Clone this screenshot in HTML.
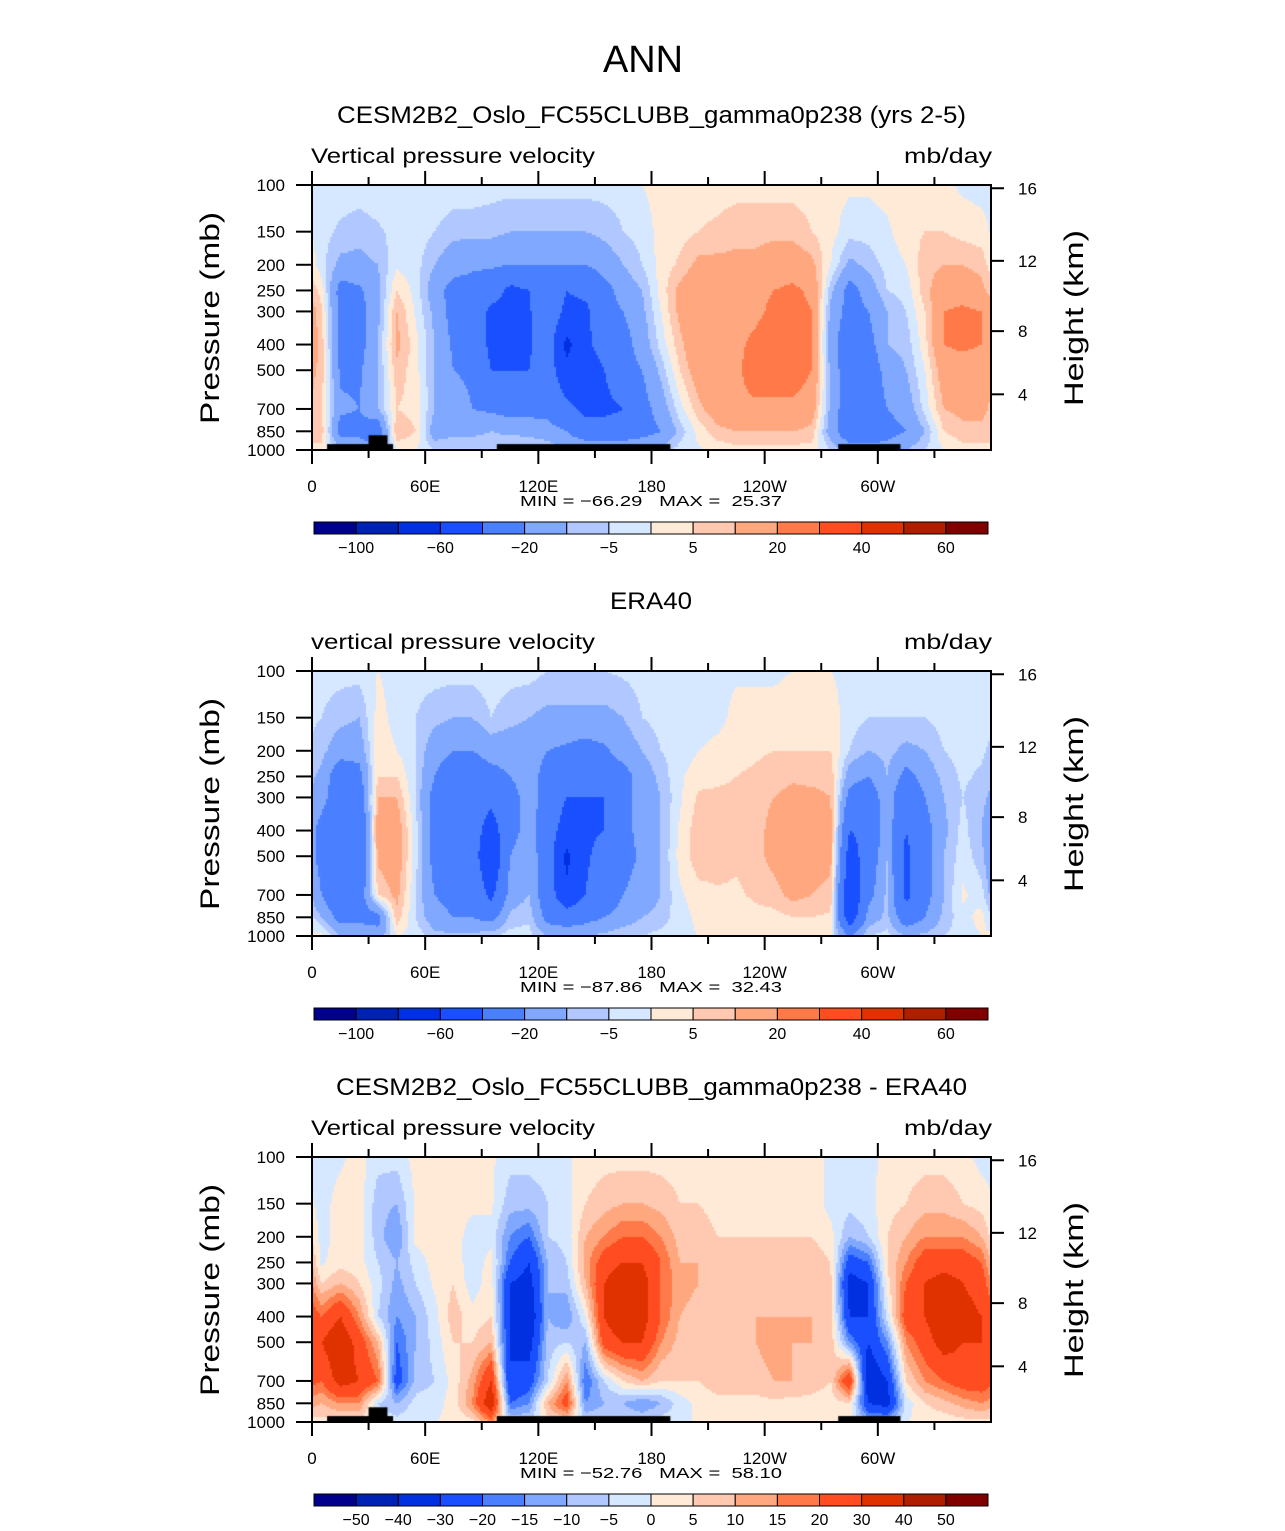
<!DOCTYPE html>
<html><head><meta charset="utf-8"><style>
html,body{margin:0;padding:0;background:#fff;}
#wrap{position:relative;width:1285px;height:1531px;overflow:hidden;}
canvas{position:absolute;}
svg{position:absolute;left:0;top:0;}
text{font-family:"Liberation Sans",sans-serif;fill:#000;}
</style></head><body>
<div id="wrap">
<canvas id="c0" width="679" height="265" style="left:312px;top:185px"></canvas>
<canvas id="c1" width="679" height="265" style="left:312px;top:671px"></canvas>
<canvas id="c2" width="679" height="265" style="left:312px;top:1157px"></canvas>
<svg id="ov" width="1285" height="1531"></svg>
</div>
<script>
// ---- data ----
const pressures=[100,150,200,250,300,400,500,700,850,1000];
const lonCenters=[5,15,25,35,45,55,65,75,85,95,105,115,125,135,145,155,165,175,185,195,205,215,225,235,245,255,265,275,285,295,305,315,325,335,345,355];
const heightTicks=[4,8,12,16];
const xTickLabels=["0","60E","120E","180","120W","60W"];
const levelsFull=[-100,-80,-60,-40,-20,-10,-5,0,5,10,20,30,40,50,60];
const levelsDiff=[-50,-40,-30,-20,-15,-10,-5,0,5,10,15,20,30,40,50];
const cbLabelsFull=["−100","","−60","","−20","","−5","","5","","20","","40","","60"];
const cbLabelsDiff=["−50","−40","−30","−20","−15","−10","−5","0","5","10","15","20","30","40","50"];
const colors=['#00008c','#0022b4','#0030e0','#1a4fff','#4a80ff','#80a8ff','#b0c8ff','#d6e8ff','#ffead8','#ffc8b0','#ffa880','#ff7a48','#ff4c20','#e03200','#b01e00','#800000'];
const modelVals=[
[-2,-3,-3,3,6,8,8,6,8,3],[-2,-6,-12,-25,-25,-25,-22,-18,-25,-8],[-2,-8,-12,-22,-25,-25,-22,-20,-25,-10],[-1,-6,-10,-12,-12,-10,-10,-10,-30,-20],
[-1,-3,-1,5,10,12,8,5,10,0],[-1,-2,-3,-2,-1,2,2,3,5,0],[-1,-5,-10,-15,-12,-10,-10,-10,-15,-5],[-2,-8,-15,-25,-25,-22,-20,-15,-12,-5],
[-2,-8,-18,-25,-25,-25,-22,-20,-12,-5],[-3,-8,-18,-30,-45,-45,-40,-22,-10,-5],[-3,-10,-20,-45,-45,-45,-40,-25,-12,-3],[-3,-10,-20,-40,-42,-42,-40,-25,-12,-5],
[-3,-10,-20,-25,-25,-30,-30,-25,-15,-5],[-3,-10,-20,-40,-45,-65,-55,-35,-20,-10],[-3,-10,-20,-35,-45,-45,-55,-45,-30,-10],[-3,-8,-15,-25,-25,-30,-40,-45,-30,-10],
[-3,-5,-10,-15,-20,-25,-25,-40,-30,-10],[0,-3,-5,-10,-12,-15,-20,-25,-25,-10],[2,2,2,2,0,-3,-8,-15,-20,-8],[3,3,6,12,12,8,5,-2,-8,-3],
[3,5,12,18,18,18,15,8,2,-1],[3,6,12,18,18,18,18,15,8,2],[3,8,12,18,18,18,18,18,10,3],[3,8,12,18,18,22,25,18,10,3],
[3,8,15,20,22,25,25,18,10,3],[3,8,15,22,24,25,25,18,10,3],[3,5,12,18,20,20,20,15,8,3],[2,2,0,-8,-12,-15,-12,-12,-15,-5],
[1,-3,-12,-25,-25,-30,-30,-30,-30,-15],[1,-3,-8,-15,-20,-25,-30,-30,-30,-15],[2,-1,-3,-5,-10,-10,-15,-20,-25,-15],[2,3,0,-3,-5,-8,-10,-15,-20,-10],
[2,5,8,8,5,3,0,-3,-10,-5],[1,5,10,15,20,20,15,10,5,0],[-1,3,10,15,22,22,15,12,8,3],[-2,2,8,12,20,20,15,12,8,3]];
const eraVals=[
[-3,-5,-8,-12,-15,-25,-25,-20,-10,2],[-3,-8,-15,-30,-30,-40,-40,-35,-25,-10],[-3,-10,-15,-25,-30,-40,-40,-30,-25,-10],[0,2,3,5,10,15,12,5,-25,-15],
[-2,-2,0,5,10,15,15,12,8,0],[-3,-5,-5,-5,-5,-3,-3,-5,-5,-2],[-3,-8,-15,-20,-25,-25,-25,-20,-15,-8],[-3,-10,-20,-30,-30,-30,-25,-25,-20,-8],
[-3,-10,-20,-30,-30,-30,-30,-25,-20,-8],[-2,-5,-15,-25,-35,-50,-60,-45,-25,-5],[-3,-8,-15,-20,-25,-25,-20,-15,-8,-3],[-3,-10,-15,-15,-15,-15,-12,-10,-6,-3],
[-5,-12,-20,-25,-25,-30,-30,-30,-25,-10],[-5,-12,-22,-30,-40,-50,-65,-55,-30,-10],[-5,-12,-25,-35,-40,-42,-42,-40,-25,-10],[-5,-12,-22,-30,-40,-40,-35,-30,-20,-8],
[-4,-10,-15,-25,-25,-25,-25,-20,-15,-5],[-3,-5,-10,-15,-15,-15,-18,-15,-10,-5],[-2,-3,-5,-8,-10,-10,-10,-10,-8,-3],[-2,-3,-3,-1,-1,1,2,-1,-2,-1],
[-2,-3,0,3,6,8,8,3,1,0],[-2,-2,2,4,6,8,8,4,2,0],[-1,2,3,5,6,6,6,4,2,0],[-1,2,4,6,8,8,8,6,3,0],
[-1,2,5,8,10,12,12,8,3,0],[0,3,5,9,12,14,14,12,5,1],[0,3,5,8,12,14,14,10,5,1],[0,3,5,8,10,12,12,8,4,0],
[-2,-3,-5,-15,-25,-40,-50,-60,-55,-20],[-2,-5,-10,-20,-30,-35,-30,-25,-15,-5],[-2,-5,-8,-10,-12,-12,-10,-8,-8,-3],[-2,-5,-12,-25,-35,-40,-45,-45,-30,-10],
[-2,-5,-10,-15,-20,-25,-25,-25,-20,-8],[-2,-3,-5,-8,-10,-12,-10,-10,-8,-5],[-2,-3,-3,-4,-5,-3,-2,1,-2,-3],[-2,-3,-4,-6,-8,-10,-8,-3,2,0]];
const diffVals=[
[-2,-2,-2,-1,5,20,30,20,10,3],[-1,2,2,3,10,30,40,35,15,3],[2,3,3,2,5,15,25,30,15,3],[-3,-8,-8,-5,-3,-5,10,20,-5,0],
[-3,-10,-15,-10,-12,-15,-20,-25,-10,-3],[2,1,2,-3,-5,-10,-10,-8,-3,0],[2,3,3,2,1,-2,-3,-5,-2,0],[2,2,2,3,5,8,5,2,2,1],
[1,1,-2,-3,-3,2,5,12,15,3],[1,1,-2,2,3,5,10,30,40,15],[-3,-8,-15,-20,-30,-30,-30,-30,-20,-5],[-3,-8,-20,-30,-35,-40,-35,-25,-15,-5],
[-3,-5,-5,-10,-10,-10,-8,-5,10,3],[-1,-2,-3,-5,-8,-15,-5,15,25,5],[2,5,10,12,10,0,-10,-20,-15,-5],[3,8,15,25,30,30,25,-5,-10,-5],
[3,10,20,30,40,40,30,5,-10,-5],[3,10,20,30,35,35,30,10,-15,-5],[3,8,15,20,20,20,15,5,-10,-3],[3,5,8,10,12,10,8,5,-3,0],
[2,5,8,10,10,8,8,5,2,0],[2,3,5,8,5,5,8,8,3,1],[2,3,5,6,8,8,10,8,3,1],[2,3,5,8,8,10,10,8,3,0],
[2,2,5,8,8,10,12,10,4,1],[2,2,5,6,8,10,10,10,3,0],[2,3,5,8,8,10,10,8,3,1],[-1,-2,2,5,6,8,8,5,2,0],
[-2,-3,-10,-25,-35,-30,-15,30,5,0],[-2,-2,-5,-20,-30,-30,-30,-40,-30,-10],[2,3,5,5,3,-3,-15,-30,-35,-10],[3,5,10,15,20,25,15,5,-3,0],
[3,8,15,25,30,30,25,15,5,1],[3,8,15,25,35,40,35,20,8,2],[2,5,15,25,30,35,30,25,12,3],[-2,3,10,20,25,30,30,25,15,3]];
const topoLon0=[8,30,98,279];
const topoLon1=[43,40,190,312];
const topoP=[950,880,950,950];
const panels=[
 {vals:modelVals,levels:levelsFull,cb:cbLabelsFull,title:"CESM2B2_Oslo_FC55CLUBB_gamma0p238 (yrs 2-5)",left:"Vertical pressure velocity",min:"−66.29",max:"25.37",topo:true,tw:629,tx:337},
 {vals:eraVals,levels:levelsFull,cb:cbLabelsFull,title:"ERA40",left:"vertical pressure velocity",min:"−87.86",max:"32.43",topo:false,tw:82,tx:610},
 {vals:diffVals,levels:levelsDiff,cb:cbLabelsDiff,title:"CESM2B2_Oslo_FC55CLUBB_gamma0p238 - ERA40",left:"Vertical pressure velocity",min:"−52.76",max:"58.10",topo:true,tw:631,tx:336}
];
const X0=312,W=679,H=265;
function xOf(lon){return lon/360*W;}
function yOf(p){return Math.log10(p/100)*H;}
function pOfZ(z){z*=1000;return z<=11000?1013.25*Math.pow(1-2.2558e-5*z,5.256):226.3*Math.exp(-(z-11000)/6341.6);}
function levelIdx(v,lv){let i=0;while(i<lv.length&&v>=lv[i])i++;return i;}
function sample(vals,lon,p){
  let cx=(lon-lonCenters[0])/(lonCenters[1]-lonCenters[0]);
  const n=lonCenters.length;
  let i0=Math.floor(cx),f=cx-i0;let i1=i0+1;
  i0=((i0%n)+n)%n;i1=((i1%n)+n)%n;
  const lp=Math.log(p);let j=0;
  while(j<pressures.length-2&&lp>Math.log(pressures[j+1]))j++;
  let g=(lp-Math.log(pressures[j]))/(Math.log(pressures[j+1])-Math.log(pressures[j]));
  g=Math.max(0,Math.min(1,g));
  const a=vals[i0][j]*(1-g)+vals[i0][j+1]*g, b=vals[i1][j]*(1-g)+vals[i1][j+1]*g;
  return a*(1-f)+b*f;
}
const NS="http://www.w3.org/2000/svg";
const ov=document.getElementById('ov');
function el(tag,attrs,parent,txt){const e=document.createElementNS(NS,tag);for(const k in attrs)e.setAttribute(k,attrs[k]);if(txt!==undefined)e.textContent=txt;(parent||ov).appendChild(e);return e;}
const mainTitle=el('text',{x:643,y:72,'font-size':38,'text-anchor':'middle','font-weight':'300',textLength:80,lengthAdjust:'spacingAndGlyphs'},ov,"ANN");


panels.forEach((P,k)=>{
  const off=k*486, T=185+off;
  const ctx=document.getElementById('c'+k).getContext('2d');
  const st=2;
  for(let px=0;px<W;px+=st){for(let py=0;py<H;py+=st){
    const lon=(px+st/2)/W*360, p=100*Math.pow(10,(py+st/2)/H);
    ctx.fillStyle=colors[levelIdx(sample(P.vals,lon,p),P.levels)];
    ctx.fillRect(px,py,st,st);
  }}
  if(P.topo){ctx.fillStyle='#000';for(let t=0;t<topoLon0.length;t++){const y=yOf(topoP[t]);ctx.fillRect(xOf(topoLon0[t]),y,xOf(topoLon1[t])-xOf(topoLon0[t]),H-y);}}
  const g=el('g',{});
  
  
  const tt=el('text',{x:P.tx,y:123+off,'font-size':24,textLength:P.tw,lengthAdjust:'spacingAndGlyphs'},g,P.title);
  
  
  const lt=el('text',{x:311,y:163+off,'font-size':21,textLength:284,lengthAdjust:'spacingAndGlyphs'},g,P.left);
  
  
  const ut=el('text',{x:992,y:163+off,'font-size':21,'text-anchor':'end',textLength:88,lengthAdjust:'spacingAndGlyphs'},g,"mb/day");
  
  
  const fr=el('rect',{x:X0,y:T,width:W,height:H,fill:'none',stroke:'#000','stroke-width':2},g);
  
  
  for(let lon=0;lon<360;lon+=30){
    const x=X0+xOf(lon), L=lon%60===0?14:8;
    el('line',{x1:x,x2:x,y1:T,y2:T-L,stroke:'#000','stroke-width':2},g);
    el('line',{x1:x,x2:x,y1:T+H,y2:T+H+L,stroke:'#000','stroke-width':2},g);
  }
  xTickLabels.forEach((s,i)=>{const t=el('text',{x:X0+xOf(i*60),y:T+307,'font-size':17,'text-anchor':'middle'},g,s);
    
    });
  pressures.forEach(p=>{const y=T+yOf(p);
    el('line',{x1:X0-16,x2:X0,y1:y,y2:y,stroke:'#000','stroke-width':2},g);
    const t=el('text',{x:285,y:y+6,'font-size':17,'text-anchor':'end'},g,String(p));
    
    });
  heightTicks.forEach(z=>{const y=T+yOf(pOfZ(z));
    el('line',{x1:X0+W,x2:X0+W+13,y1:y,y2:y,stroke:'#000','stroke-width':2},g);
    const t=el('text',{x:1018,y:y+6,'font-size':17},g,String(z));
    
    });
  const yt=el('text',{x:0,y:0,'font-size':27,'text-anchor':'middle',transform:`translate(219,${T+133}) rotate(-90)`,textLength:212,lengthAdjust:'spacingAndGlyphs'},g,"Pressure (mb)");
  
  
  const ht=el('text',{x:0,y:0,'font-size':27,'text-anchor':'middle',transform:`translate(1083,${T+133}) rotate(-90)`,textLength:176,lengthAdjust:'spacingAndGlyphs'},g,"Height (km)");
  
  
  const mm=el('text',{x:651,y:T+321,'font-size':15,'text-anchor':'middle',style:'white-space:pre',textLength:262,lengthAdjust:'spacingAndGlyphs'},g,`MIN = ${P.min}   MAX =  ${P.max}`);
  
  
  const cb=el('g',{},g);
  
  
  const cw=674/colors.length, cy=522+off;
  colors.forEach((c,i)=>{const r=el('rect',{x:314+i*cw,y:cy,width:cw,height:12,fill:c,stroke:'#000','stroke-width':1},cb);
    
    });
  P.cb.forEach((s,i)=>{if(!s)return;const t=el('text',{x:314+(i+1)*cw,y:cy+31,'font-size':16,'text-anchor':'middle'},cb,s);
    
    });
});
</script>
</body></html>
